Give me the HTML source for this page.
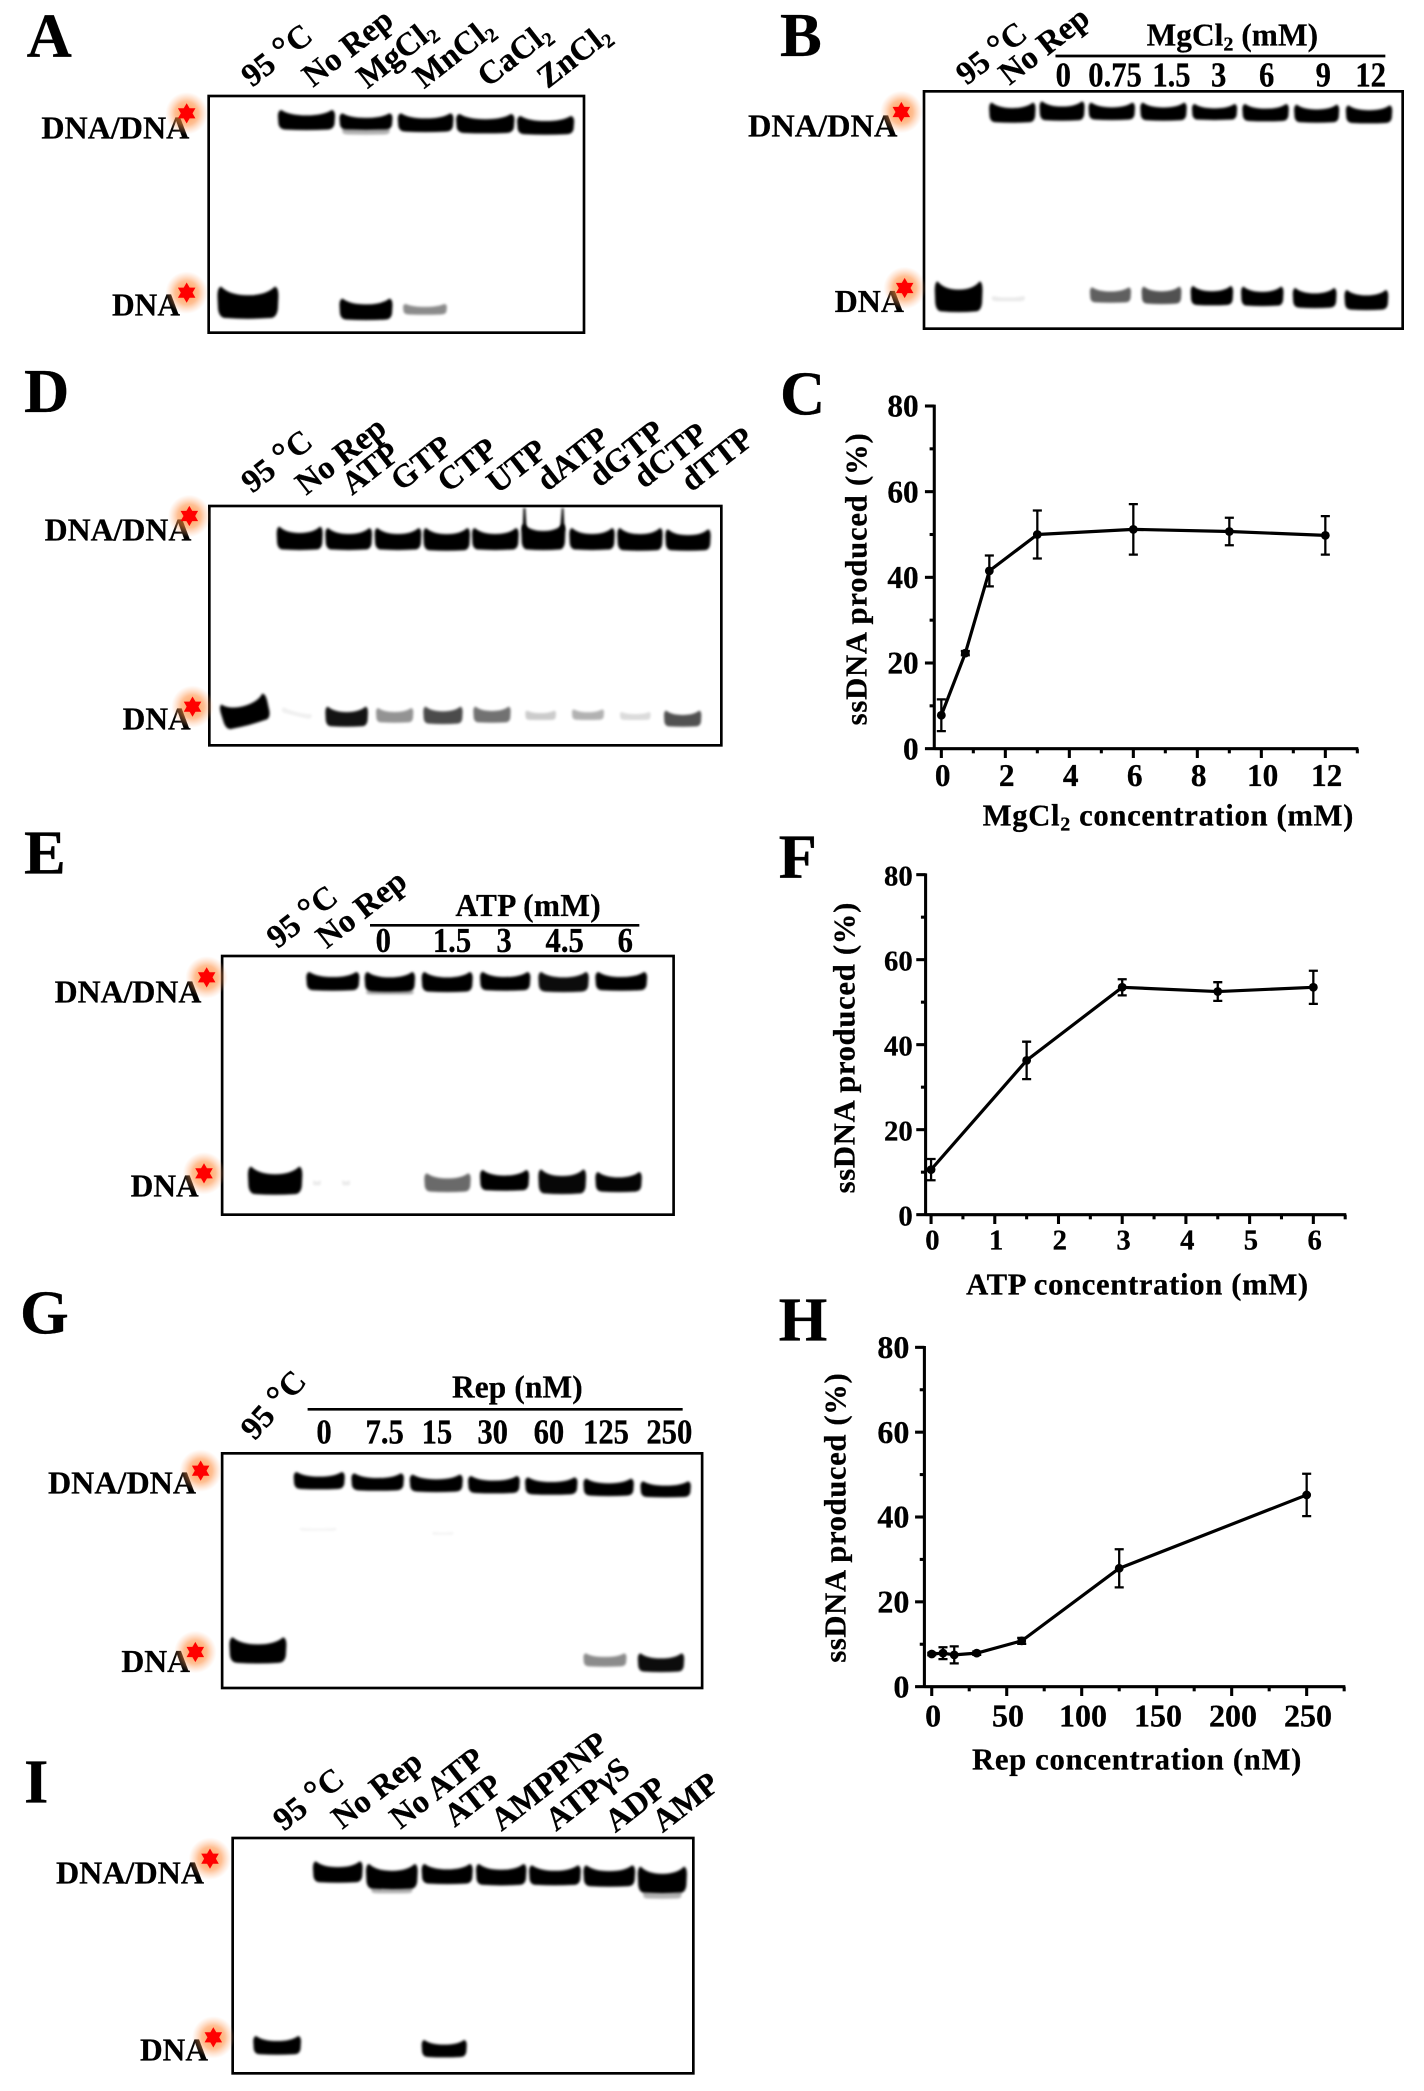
<!DOCTYPE html>
<html lang="en">
<head>
<meta charset="utf-8">
<title>Rep helicase unwinding gels and quantification</title>
<style>
html,body{margin:0;padding:0;background:#fff;}
svg{display:block;}
text{font-family:"Liberation Serif","Noto Serif CJK SC",serif;font-weight:bold;fill:#000;stroke:#000;stroke-width:.2px;}
.letter{font-size:47px;}
.lab{font-size:24.5px;}
.side{font-size:24px;}
.num{font-size:23px;text-anchor:middle;}
.head{font-size:23.5px;}
.title{font-size:23px;}
</style>
</head>
<body>
<svg id="figure" xmlns="http://www.w3.org/2000/svg" width="1424" height="2091" viewBox="0 0 1068 1568.25">
<defs>
<filter id="blur" x="-30%" y="-60%" width="160%" height="220%"><feGaussianBlur stdDeviation="1"/></filter>
<radialGradient id="glow"><stop offset="0" stop-color="#ff7a1a" stop-opacity="0.8"/><stop offset="0.55" stop-color="#ff8c3c" stop-opacity="0.55"/><stop offset="1" stop-color="#ffb080" stop-opacity="0"/></radialGradient>
</defs>
<rect width="1068" height="1568.25" fill="#fff"/>

<g id="gels"></g>

<!-- Panel letters -->
<text class="letter" x="20" y="42.5">A</text>
<text class="letter" x="585" y="42">B</text>
<text class="letter" x="18" y="309">D</text>
<text class="letter" x="585" y="311">C</text>
<text class="letter" x="18" y="655">E</text>
<text class="letter" x="584" y="658">F</text>
<text class="letter" x="15" y="1000">G</text>
<text class="letter" x="584" y="1005.5">H</text>
<text class="letter" x="18" y="1352">I</text>

<!-- Panel A -->
<g>
<rect x="156.5" y="72" width="281.5" height="177.5" fill="none" stroke="#000" stroke-width="2"/>
<text class="side" x="31" y="104" textLength="111" lengthAdjust="spacingAndGlyphs">DNA/DNA</text>
<text class="side" x="84" y="236.5" textLength="51" lengthAdjust="spacingAndGlyphs">DNA</text>
<text class="lab" transform="translate(189 66) rotate(-38)">95 <tspan font-size="28">°</tspan>C</text>
<text class="lab" transform="translate(234.7 66) rotate(-38)">No Rep</text>
<text class="lab" transform="translate(275.5 67) rotate(-38)">MgCl<tspan dy="4" font-size="15">2</tspan></text>
<text class="lab" transform="translate(318 67) rotate(-38)">MnCl<tspan dy="4" font-size="15">2</tspan></text>
<text class="lab" transform="translate(366 66) rotate(-38)">CaCl<tspan dy="4" font-size="15">2</tspan></text>
<text class="lab" transform="translate(410.7 67) rotate(-38)">ZnCl<tspan dy="4" font-size="15">2</tspan></text>
</g>

<!-- Panel B -->
<g>
<rect x="693" y="68.5" width="359" height="178" fill="none" stroke="#000" stroke-width="2"/>
<text class="side" x="561" y="102.5" textLength="112" lengthAdjust="spacingAndGlyphs">DNA/DNA</text>
<text class="side" x="626" y="234" textLength="52" lengthAdjust="spacingAndGlyphs">DNA</text>
<text class="lab" transform="translate(725 64.5) rotate(-38)">95 <tspan font-size="28">°</tspan>C</text>
<text class="lab" transform="translate(757 64.5) rotate(-38)">No Rep</text>
<text class="head" x="860" y="34" textLength="128.5">MgCl<tspan dy="4" font-size="15">2</tspan><tspan dy="-4"> (mM)</tspan></text>
<line x1="791.6" x2="1039" y1="42" y2="42" stroke="#000" stroke-width="2"/>
<text class="num" transform="translate(797.5 65) scale(1 1.15)">0</text>
<text class="num" transform="translate(836.3 65) scale(1 1.15)">0.75</text>
<text class="num" transform="translate(878.6 65) scale(1 1.15)">1.5</text>
<text class="num" transform="translate(914 65) scale(1 1.15)">3</text>
<text class="num" transform="translate(950 65) scale(1 1.15)">6</text>
<text class="num" transform="translate(992.5 65) scale(1 1.15)">9</text>
<text class="num" transform="translate(1028 65) scale(1 1.15)">12</text>
</g>

<!-- Panel D -->
<g>
<rect x="157" y="379.5" width="384" height="179.5" fill="none" stroke="#000" stroke-width="2"/>
<text class="side" x="33.5" y="405.5" textLength="110" lengthAdjust="spacingAndGlyphs">DNA/DNA</text>
<text class="side" x="92" y="547" textLength="51" lengthAdjust="spacingAndGlyphs">DNA</text>
<text class="lab" transform="translate(189 370.5) rotate(-38)">95 <tspan font-size="28">°</tspan>C</text>
<text class="lab" transform="translate(229.5 372) rotate(-38)">No Rep</text>
<text class="lab" transform="translate(264 372) rotate(-38)">ATP</text>
<text class="lab" transform="translate(301 369) rotate(-38)">GTP</text>
<text class="lab" transform="translate(336 370) rotate(-38)">CTP</text>
<text class="lab" transform="translate(373 371) rotate(-38)">UTP</text>
<text class="lab" transform="translate(410.5 369) rotate(-38)">dATP</text>
<text class="lab" transform="translate(449.5 366) rotate(-38)">dGTP</text>
<text class="lab" transform="translate(483 367) rotate(-38)">dCTP</text>
<text class="lab" transform="translate(518.5 369.5) rotate(-38)">dTTP</text>
</g>

<!-- Panel E -->
<g>
<rect x="166.6" y="717" width="338.6" height="194" fill="none" stroke="#000" stroke-width="2"/>
<text class="side" x="41" y="752" textLength="110" lengthAdjust="spacingAndGlyphs">DNA/DNA</text>
<text class="side" x="98" y="897.5" textLength="51" lengthAdjust="spacingAndGlyphs">DNA</text>
<text class="lab" transform="translate(208 712) rotate(-38)">95 <tspan font-size="28">°</tspan>C</text>
<text class="lab" transform="translate(245 712) rotate(-38)">No Rep</text>
<text class="head" x="341.5" y="687" textLength="109">ATP (mM)</text>
<line x1="277.5" x2="479.5" y1="694" y2="694" stroke="#000" stroke-width="2"/>
<text class="num" transform="translate(287.5 714) scale(1 1.15)">0</text>
<text class="num" transform="translate(339 714) scale(1 1.15)">1.5</text>
<text class="num" transform="translate(378 714) scale(1 1.15)">3</text>
<text class="num" transform="translate(423.5 714) scale(1 1.15)">4.5</text>
<text class="num" transform="translate(469 714) scale(1 1.15)">6</text>
</g>

<!-- Panel G -->
<g>
<rect x="166.6" y="1090" width="360" height="176" fill="none" stroke="#000" stroke-width="2"/>
<text class="side" x="36" y="1120" textLength="111" lengthAdjust="spacingAndGlyphs">DNA/DNA</text>
<text class="side" x="91" y="1254" textLength="51.5" lengthAdjust="spacingAndGlyphs">DNA</text>
<text class="lab" transform="translate(191 1081) rotate(-48)">95 <tspan font-size="28">°</tspan>C</text>
<text class="head" x="339" y="1048" textLength="98">Rep (nM)</text>
<line x1="230.7" x2="512" y1="1057" y2="1057" stroke="#000" stroke-width="2"/>
<text class="num" transform="translate(243 1082.5) scale(1 1.15)">0</text>
<text class="num" transform="translate(288.5 1082.5) scale(1 1.15)">7.5</text>
<text class="num" transform="translate(327.7 1082.5) scale(1 1.15)">15</text>
<text class="num" transform="translate(369.5 1082.5) scale(1 1.15)">30</text>
<text class="num" transform="translate(411.7 1082.5) scale(1 1.15)">60</text>
<text class="num" transform="translate(454.5 1082.5) scale(1 1.15)">125</text>
<text class="num" transform="translate(502 1082.5) scale(1 1.15)">250</text>
</g>

<!-- Panel I -->
<g>
<rect x="174.5" y="1378.5" width="345.5" height="176.5" fill="none" stroke="#000" stroke-width="2"/>
<text class="side" x="42" y="1412.5" textLength="111" lengthAdjust="spacingAndGlyphs">DNA/DNA</text>
<text class="side" x="105" y="1545.5" textLength="51" lengthAdjust="spacingAndGlyphs">DNA</text>
<text class="lab" transform="translate(212.8 1374) rotate(-38)">95 <tspan font-size="28">°</tspan>C</text>
<text class="lab" transform="translate(256.6 1372.5) rotate(-38)">No Rep</text>
<text class="lab" transform="translate(300.3 1372.5) rotate(-38)">No ATP</text>
<text class="lab" transform="translate(341 1371) rotate(-38)">ATP</text>
<text class="lab" transform="translate(376 1374) rotate(-38)">AMPPNP</text>
<text class="lab" transform="translate(417 1374) rotate(-38)">ATPγS</text>
<text class="lab" transform="translate(461.5 1375) rotate(-38)">ADP</text>
<text class="lab" transform="translate(497 1375) rotate(-38)">AMP</text>
</g>

<g id="stars"></g>

<!-- Chart titles -->
<text class="title" x="737" y="619" textLength="278">MgCl<tspan dy="4" font-size="15">2</tspan><tspan dy="-4"> concentration (mM)</tspan></text>
<text class="title" transform="translate(650 544) rotate(-90)" textLength="219">ssDNA produced (%)</text>
<text class="title" x="724.6" y="971" textLength="256.5">ATP concentration (mM)</text>
<text class="title" transform="translate(641 895) rotate(-90)" textLength="218">ssDNA produced (%)</text>
<text class="title" x="729" y="1327" textLength="247">Rep concentration (nM)</text>
<text class="title" transform="translate(634 1247) rotate(-90)" textLength="217">ssDNA produced (%)</text>

<g id="charts"></g>
</svg>

<script>
// Chart C: MgCl2 titration
const cConcentrations = [0, 0.75, 1.5, 3, 6, 9, 12];
const cPercent = [7.8, 22.3, 41.5, 50, 51.2, 50.7, 49.8];
const cErrors = [3.7, 0.5, 3.6, 5.6, 5.9, 3.2, 4.5];
const cXTicks = [0, 2, 4, 6, 8, 10, 12];
const cYTicks = [0, 20, 40, 60, 80];

// Chart F: ATP titration
const fConcentrations = [0, 1.5, 3, 4.5, 6];
const fPercent = [10.6, 36.3, 53.5, 52.5, 53.5];
const fErrors = [2.5, 4.4, 1.9, 2.2, 3.9];
const fXTicks = [0, 1, 2, 3, 4, 5, 6];
const fYTicks = [0, 20, 40, 60, 80];

// Chart H: Rep titration
const hConcentrations = [0, 7.5, 15, 30, 60, 125, 250];
const hPercent = [7.7, 7.9, 7.5, 7.9, 10.8, 27.9, 45.2];
const hErrors = [0.3, 1.4, 2.0, 0.4, 0.7, 4.5, 5.0];
const hXTicks = [0, 50, 100, 150, 200, 250];
const hYTicks = [0, 20, 40, 60, 80];

// Gel bands: [left, right, top, bottom, darkness, tilt]
const gelABands = [
  [209.6,252.7,82.5,97.5,1],[256,296,85,97.5,1],[258,294,96,101,.3],[300,342,85,99,1],[344,388,85.5,100,1],[390,433,87,101,1],
  [164,210,215,239,1],[256,296,224,240,1],[304,337,228,236,.45]
];
const gelBBands = [
  [743,778,77,92,1],[781,815,76,90.5,1],[818,853,77,90,1],[857,892,77,90.5,1],[896,930,78,90,1],[934,969,78,91,1],[973,1007,78.5,92,1],[1012,1047,79,92.5,1],
  [702,738,211,234,1],[745,770,222,226,.08],[819,850,215.5,227,.62],[858,888,215,228,.68],[895,927,214.5,229,1],[933,965,215,229.5,1],[972,1005,216,231,1],[1011,1044,217.5,232.5,1]
];
const gelDBands = [
  [207.5,242,395,412.5,1],[244,279,396,412.5,1],[281,316,396,412.5,1],[317.5,352.5,396,413,1],[354,389,396,412.5,1],[391,424,393,412.5,1],[427,461,396,412.5,1],[463,497,396,413,1],[499,533,397,413,1],
  [166,202,524,544,1,-15],[211,234,533,537,.06,14],[244,276,530,545,.92],[282,310,531,542,.42],[317.5,347,530,543,.7],[355,383,530,542,.55],[394,417,533,540,.2],[429,453,532,540,.3],[465,488,534,540,.14],[498,526,533,545,.68]
];
const gelEBands = [
  [231,271,729,743,1],[275,313,729,744,1],[276,312,743,746,.3],[318,356.5,729,744,1],[362,400,729,743,1],[406,444,729,744,.95],[449,488,729,743,1],
  [187,228,875,896,1],[236,242,885,889,.08],[258,264,885,889,.08],[320,355,880,894,.58],[362,399,877.5,893,1],[406,442,877,895.5,.97],[449,484,879,894,.98]
];
const gelGBands = [
  [221.5,260,1104,1117,1],[265,304.6,1105,1118,1],[309,349,1106,1119,1],[353,392,1107,1120,1],[396,435.5,1108,1121,1],[440,478,1109,1122,1],[483,521,1111,1123,1],
  [173,216,1228,1247.5,1],[440,472.5,1240,1250,.45],[481,516,1240,1254,.95],
  [226,254,1146,1148,.05],[326,342,1149,1151,.05]
];
const gelIBands = [
  [236,273.5,1396,1412,1],[276,315,1398,1417,1],[280,311,1416,1420,.3],[318,356.5,1398,1413,1],[359,397,1398,1414,1],[399,438,1399,1414,1],[440,479,1399,1415,1],[481,518,1400,1420,1],[485,514,1419,1424,.3],
  [191,227,1527,1541,1],[318,352,1530,1543,1]
];
// Radiolabel star centres
const starCentres = [[140,85],[140,219.5],[676,84],[678.5,216],[142,387],[144.4,530],[155,733],[153,880],[150.5,1103],[146.5,1239],[157.5,1394],[160,1528]];

const NS = 'http://www.w3.org/2000/svg';
function mk(tag, attrs, parent) {
  const el = document.createElementNS(NS, tag);
  Object.keys(attrs).forEach(function (k) { el.setAttribute(k, attrs[k]); });
  parent.appendChild(el);
  return el;
}

function drawBands(list, gelName, origin, k) {
  const host = document.getElementById('gels');
  list.forEach(function (b, i) {
    const x1 = origin + (b[0] - origin) * k, x2 = origin + (b[1] - origin) * k;
    const y1 = b[2], y2 = b[3], dark = b[4], tilt = b[5] || 0;
    const w = x2 - x1, h = y2 - y1, cx = (x1 + x2) / 2, cy = (y1 + y2) / 2;
    const sag = h * 0.27;
    const d = 'M' + (x1 + w * 0.06) + ' ' + y1 +
      ' Q' + (x1 + w * 0.2) + ' ' + (y1 + sag) + ' ' + cx + ' ' + (y1 + sag) +
      ' Q' + (x2 - w * 0.2) + ' ' + (y1 + sag) + ' ' + (x2 - w * 0.06) + ' ' + y1 +
      ' Q' + x2 + ' ' + (y1 + h * 0.02) + ' ' + x2 + ' ' + (y1 + h * 0.3) +
      ' L' + (x2 - w * 0.01) + ' ' + (y1 + h * 0.7) +
      ' Q' + (x2 - w * 0.03) + ' ' + (y2 - h * 0.02) + ' ' + (x2 - w * 0.14) + ' ' + (y2 - h * 0.02) +
      ' Q' + cx + ' ' + (y2 + h * 0.03) + ' ' + (x1 + w * 0.14) + ' ' + (y2 - h * 0.02) +
      ' Q' + (x1 + w * 0.03) + ' ' + (y2 - h * 0.02) + ' ' + (x1 + w * 0.01) + ' ' + (y1 + h * 0.7) +
      ' L' + x1 + ' ' + (y1 + h * 0.3) +
      ' Q' + x1 + ' ' + (y1 + h * 0.02) + ' ' + (x1 + w * 0.06) + ' ' + y1 + 'Z';
    const el = mk('path', {d: d, fill: '#000', opacity: dark, filter: 'url(#blur)'}, host);
    if (tilt) el.setAttribute('transform', 'rotate(' + tilt + ' ' + cx + ' ' + cy + ')');
    
    
  });
}
drawBands(gelABands, 'gel-a', 0, 0.9945);
drawBands(gelBBands, 'gel-b', 534, 0.9945);
drawBands(gelDBands, 'gel-d', 0, 1);
drawBands(gelEBands, 'gel-e', 0, 0.9945);
drawBands(gelGBands, 'gel-g', 0, 0.9945);
drawBands(gelIBands, 'gel-i', 0, 0.9945);

// dATP well smear in gel D
(function () {
  const host = document.getElementById('gels');
  const smear = mk('path', {d: 'M392 398 L392.6 381 L394 381 L395 398 Z M420 398 L421.4 381 L422.6 381 L423.4 398 Z', fill: '#000', filter: 'url(#blur)'}, host);
  
  
})();

// Stars
(function () {
  const host = document.getElementById('stars');
  starCentres.forEach(function (c, i) {
    const x = c[0], y = c[1], r = 7.6;
    const g = mk('g', {}, host);
    
    
    mk('circle', {cx: x, cy: y, r: 16, fill: 'url(#glow)'}, g);
    const up = [], dn = [];
    for (let k = 0; k < 3; k++) {
      const a = -Math.PI / 2 + k * 2 * Math.PI / 3;
      up.push((x + r * Math.cos(a)) + ',' + (y + r * Math.sin(a)));
      dn.push((x - r * Math.cos(a)) + ',' + (y - r * Math.sin(a)));
    }
    mk('polygon', {points: up.join(' '), fill: '#f00'}, g);
    mk('polygon', {points: dn.join(' '), fill: '#f00'}, g);
  });
})();

function drawChart(name, xs, ys, errs, xTicks, yTicks, geo) {
  const host = document.getElementById('charts');
  const xMax = xTicks[xTicks.length - 1], yMax = yTicks[yTicks.length - 1];
  const sx = function (v) { return geo.x0 + (v / xMax) * (geo.x1 - geo.x0); };
  const sy = function (v) { return geo.y0 + (v / yMax) * (geo.y1 - geo.y0); };
  const g = mk('g', {}, host);
  
  
  const axes = {stroke: '#000', 'stroke-width': 2.3, fill: 'none'};

  const yAxis = mk('line', Object.assign({x1: geo.axisX, x2: geo.axisX, y1: sy(yMax) - 1, y2: geo.y0 + 1}, axes), g);
  
  
  const xAxis = mk('line', Object.assign({x1: geo.axisX, x2: geo.axisEnd, y1: geo.y0, y2: geo.y0}, axes), g);
  
  

  yTicks.forEach(function (t, i) {
    const y = sy(t);
    const tick = mk('line', Object.assign({x1: geo.axisX - 7, x2: geo.axisX, y1: y, y2: y}, axes), g);
    
    
    const label = mk('text', {x: geo.yLabelX, y: y + 8, 'text-anchor': 'end', 'font-size': geo.font}, g);
    label.textContent = String(t);
    
    
    if (i < yTicks.length - 1) {
      const my = sy((t + yTicks[i + 1]) / 2);
      const minor = mk('line', Object.assign({x1: geo.axisX - 3.5, x2: geo.axisX, y1: my, y2: my}, axes), g);
      
      
    }
  });

  xTicks.forEach(function (t, i) {
    const x = sx(t);
    const tick = mk('line', Object.assign({x1: x, x2: x, y1: geo.y0, y2: geo.y0 + 7}, axes), g);
    
    
    const label = mk('text', {x: x + 1, y: geo.xLabelY, 'text-anchor': 'middle', 'font-size': geo.font}, g);
    label.textContent = String(t);
    
    
    const step = i < xTicks.length - 1 ? xTicks[i + 1] - t : t - xTicks[i - 1];
    const mx = sx(t + step / 2);
    if (mx < geo.axisEnd) {
      const minor = mk('line', Object.assign({x1: mx, x2: mx, y1: geo.y0, y2: geo.y0 + 3.5}, axes), g);
      
      
    }
  });

  const pts = xs.map(function (v, i) { return sx(v) + ',' + sy(ys[i]); }).join(' ');
  const line = mk('polyline', {points: pts, fill: 'none', stroke: '#000', 'stroke-width': 2.4, 'stroke-linejoin': 'round'}, g);
  
  

  xs.forEach(function (v, i) {
    const x = sx(v), y = sy(ys[i]), top = sy(ys[i] + errs[i]), bot = sy(ys[i] - errs[i]);
    const bar = mk('path', {d: 'M' + x + ' ' + top + 'V' + bot + 'M' + (x - 3.4) + ' ' + top + 'H' + (x + 3.4) + 'M' + (x - 3.4) + ' ' + bot + 'H' + (x + 3.4), fill: 'none', stroke: '#000', 'stroke-width': 1.7}, g);
    
    
    const dot = mk('circle', {cx: x, cy: y, r: 3.3, fill: '#000'}, g);
    
    
  });
}

drawChart('chart-c', cConcentrations, cPercent, cErrors, cXTicks, cYTicks,
  {x0: 706, x1: 994, y0: 561.5, y1: 304.5, axisX: 700.7, axisEnd: 1018.7, yLabelX: 689, xLabelY: 589.5, font: 23.5});
drawChart('chart-f', fConcentrations, fPercent, fErrors, fXTicks, fYTicks,
  {x0: 698.3, x1: 985, y0: 911, y1: 656, axisX: 694.2, axisEnd: 1009.7, yLabelX: 684.5, xLabelY: 937, font: 21.5});
drawChart('chart-h', hConcentrations, hPercent, hErrors, hXTicks, hYTicks,
  {x0: 698.8, x1: 980, y0: 1265, y1: 1010.5, axisX: 693.3, axisEnd: 1009, yLabelX: 682, xLabelY: 1295, font: 24});
</script>
</body>
</html>
